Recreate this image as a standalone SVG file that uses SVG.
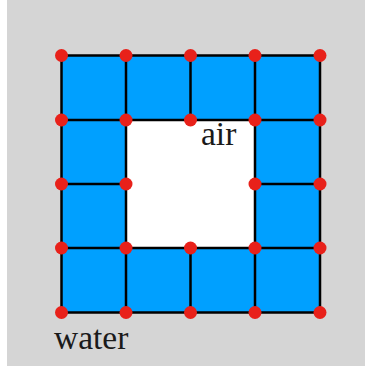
<svg xmlns="http://www.w3.org/2000/svg" width="365" height="366" viewBox="0 0 365 366">
<style>
.cell{fill:#00A0FF;stroke:#000;stroke-width:2.5}
.line{stroke:#000;stroke-width:2.5;fill:none}
.pt{fill:#E8211A}
.lbl{font-family:"Liberation Serif","DejaVu Serif",serif;font-size:33.5px;fill:#1a1a1a}
</style>
<rect x="7" y="0" width="358" height="366" fill="#D5D5D5"/>
<g id="water">
<path d="M61.5,55.5H320V312.5H61.5Z M126,120V248H255V120Z" fill="#00A0FF" fill-rule="evenodd"/>
</g>
<g id="air">
<rect x="126" y="120" width="129" height="128" fill="#FFFFFF"/>
</g>
<g id="grid">
<path class="line" d="M61.5,55.5H320V312.5H61.5Z M126,120H255V248H126Z M126,55.5V120 M190.5,55.5V120 M255,55.5V120 M126,248V312.5 M190.5,248V312.5 M255,248V312.5 M61.5,120H126 M61.5,184H126 M61.5,248H126 M255,120H320 M255,184H320 M255,248H320"/>
</g>
<g id="points">
<circle class="pt" cx="61.5" cy="55.5" r="6.5"/><circle class="pt" cx="126" cy="55.5" r="6.5"/><circle class="pt" cx="190.5" cy="55.5" r="6.5"/><circle class="pt" cx="255" cy="55.5" r="6.5"/><circle class="pt" cx="320" cy="55.5" r="6.5"/>
<circle class="pt" cx="61.5" cy="120" r="6.5"/><circle class="pt" cx="126" cy="120" r="6.5"/><circle class="pt" cx="190.5" cy="120" r="6.5"/><circle class="pt" cx="255" cy="120" r="6.5"/><circle class="pt" cx="320" cy="120" r="6.5"/>
<circle class="pt" cx="61.5" cy="184" r="6.5"/><circle class="pt" cx="126" cy="184" r="6.5"/><circle class="pt" cx="255" cy="184" r="6.5"/><circle class="pt" cx="320" cy="184" r="6.5"/>
<circle class="pt" cx="61.5" cy="248" r="6.5"/><circle class="pt" cx="126" cy="248" r="6.5"/><circle class="pt" cx="190.5" cy="248" r="6.5"/><circle class="pt" cx="255" cy="248" r="6.5"/><circle class="pt" cx="320" cy="248" r="6.5"/>
<circle class="pt" cx="61.5" cy="312.5" r="6.5"/><circle class="pt" cx="126" cy="312.5" r="6.5"/><circle class="pt" cx="190.5" cy="312.5" r="6.5"/><circle class="pt" cx="255" cy="312.5" r="6.5"/><circle class="pt" cx="320" cy="312.5" r="6.5"/>
</g>
<g id="labels">
<text class="lbl" x="201" y="145">air</text>
<text class="lbl" x="54" y="349">water</text>
</g>
</svg>
